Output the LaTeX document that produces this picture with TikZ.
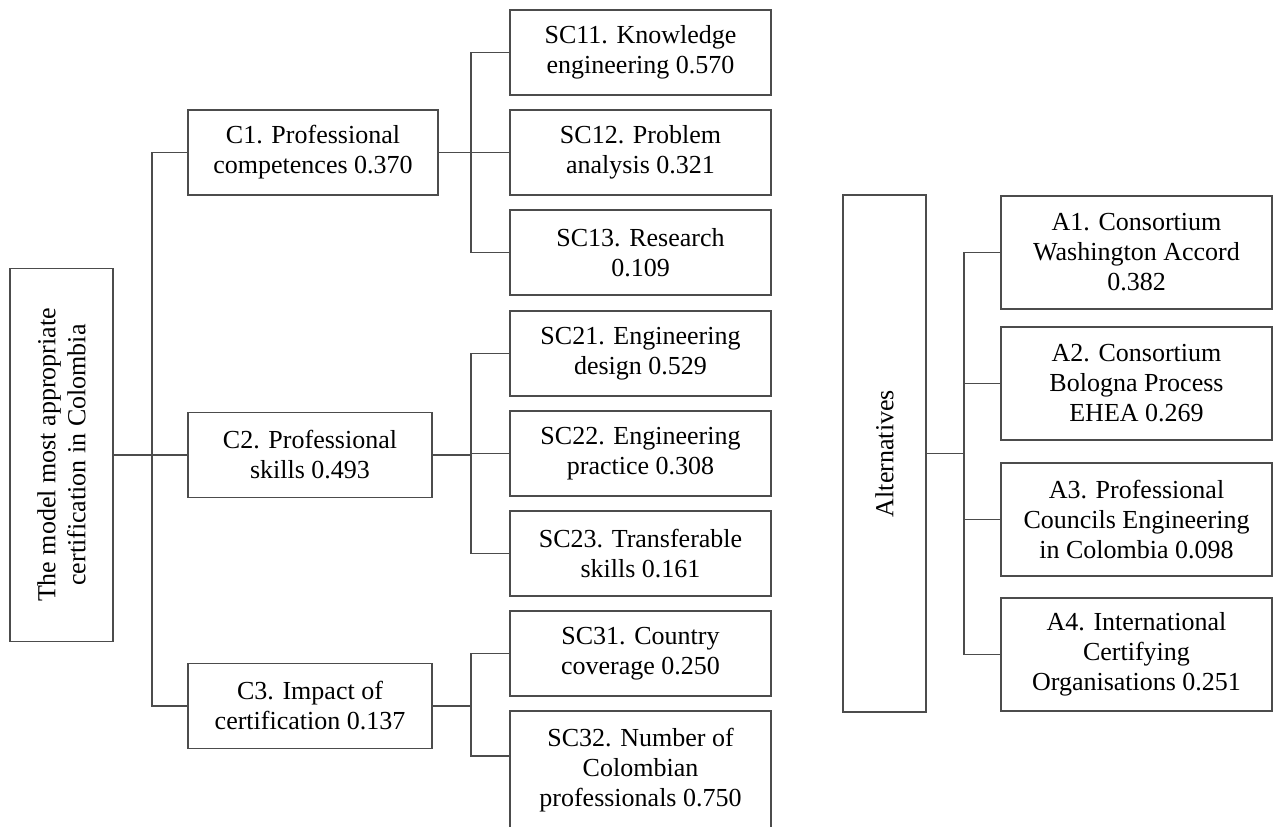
\documentclass[tikz,border=0pt]{standalone}
\usepackage{fontspec}
\setmainfont{Liberation Serif}
\usetikzlibrary{positioning}

\begin{document}
\begin{tikzpicture}[
  x=0.5pt, y=-0.5pt,
  box/.style = {draw=black!70, line width=0.75pt, align=center, inner sep=0pt, outer sep=0pt, font=\fontsize{13}{15}\selectfont},
  goal/.style = {box, rotate=90, minimum width=186.5pt, minimum height=51.5pt},
  crit/.style = {box, minimum height=42.5pt},
  subcrit/.style = {box, minimum width=130.5pt, minimum height=42.5pt},
  altbox/.style = {box, minimum width=135.5pt, minimum height=56.5pt},
  link/.style = {draw=black!70, line width=0.75pt}
]

% Page frame
\useasboundingbox (0,0) rectangle (1273,826);
\clip (0,0) rectangle (1273,826);

% Goal
\node[goal] (root) at (61.5,455) {The model most appropriate\\certification in Colombia};

% Criteria
\node[crit, minimum width=125pt] (c1) at (313,152.5) {C1. Professional\\competences 0.370};
\node[crit, minimum width=122pt] (c2) at (310,455) {C2. Professional\\skills 0.493};
\node[crit, minimum width=122pt] (c3) at (310,706) {C3. Impact of\\certification 0.137};

% Sub-criteria
\node[subcrit] (sc11) at (640.5,52.5) {SC11. Knowledge\\engineering 0.570};
\node[subcrit] (sc12) at (640.5,152.5) {SC12. Problem\\analysis 0.321};
\node[subcrit] (sc13) at (640.5,252.5) {SC13. Research\\0.109};
\node[subcrit] (sc21) at (640.5,353.5) {SC21. Engineering\\design 0.529};
\node[subcrit] (sc22) at (640.5,453.5) {SC22. Engineering\\practice 0.308};
\node[subcrit] (sc23) at (640.5,553.5) {SC23. Transferable\\skills 0.161};
\node[subcrit] (sc31) at (640.5,653.5) {SC31. Country\\coverage 0.250};
\node[subcrit, minimum height=59pt] (sc32) at (640.5,770) {SC32. Number of\\Colombian\\professionals 0.750};

% Alternatives
\node[goal, minimum width=258.5pt, minimum height=41.5pt] (alt) at (884.5,453.5) {Alternatives};
\node[altbox] (a1) at (1136.5,252.5) {A1. Consortium\\Washington Accord\\0.382};
\node[altbox] (a2) at (1136.5,383.5) {A2. Consortium\\Bologna Process\\EHEA 0.269};
\node[altbox] (a3) at (1136.5,519.5) {A3. Professional\\Councils Engineering\\in Colombia 0.098};
\node[altbox] (a4) at (1136.5,654.5) {A4. International\\Certifying\\Organisations 0.251};

% Junctions
\coordinate (j0) at (152,455);
\coordinate (j1) at (471,152.5);
\coordinate (j2) at (471,455);
\coordinate (j3) at (471,706);
\coordinate (ja) at (964,453.5);

% Goal to criteria
\draw[link] (root.south) -- (j0);
\draw[link] (j0) |- (c1.west);
\draw[link] (j0) -- (c2.west);
\draw[link] (j0) |- (c3.west);

% Criteria to sub-criteria
\draw[link] (c1.east) -- (j1);
\draw[link] (j1) |- (sc11.west);
\draw[link] (j1) -- (sc12.west);
\draw[link] (j1) |- (sc13.west);
\draw[link] (c2.east) -- (j2);
\draw[link] (j2) |- (sc21.west);
\draw[link] (j2) |- (sc22.west);
\draw[link] (j2) |- (sc23.west);
\draw[link] (c3.east) -- (j3);
\draw[link] (j3) |- (sc31.west);
\draw[link] (j3) |- (sc32.west |- 0,756);

% Alternatives links
\draw[link] (alt.south) -- (ja);
\draw[link] (ja) |- (a1.west);
\draw[link] (ja) |- (a2.west);
\draw[link] (ja) |- (a3.west);
\draw[link] (ja) |- (a4.west);

\end{tikzpicture}
\end{document}
